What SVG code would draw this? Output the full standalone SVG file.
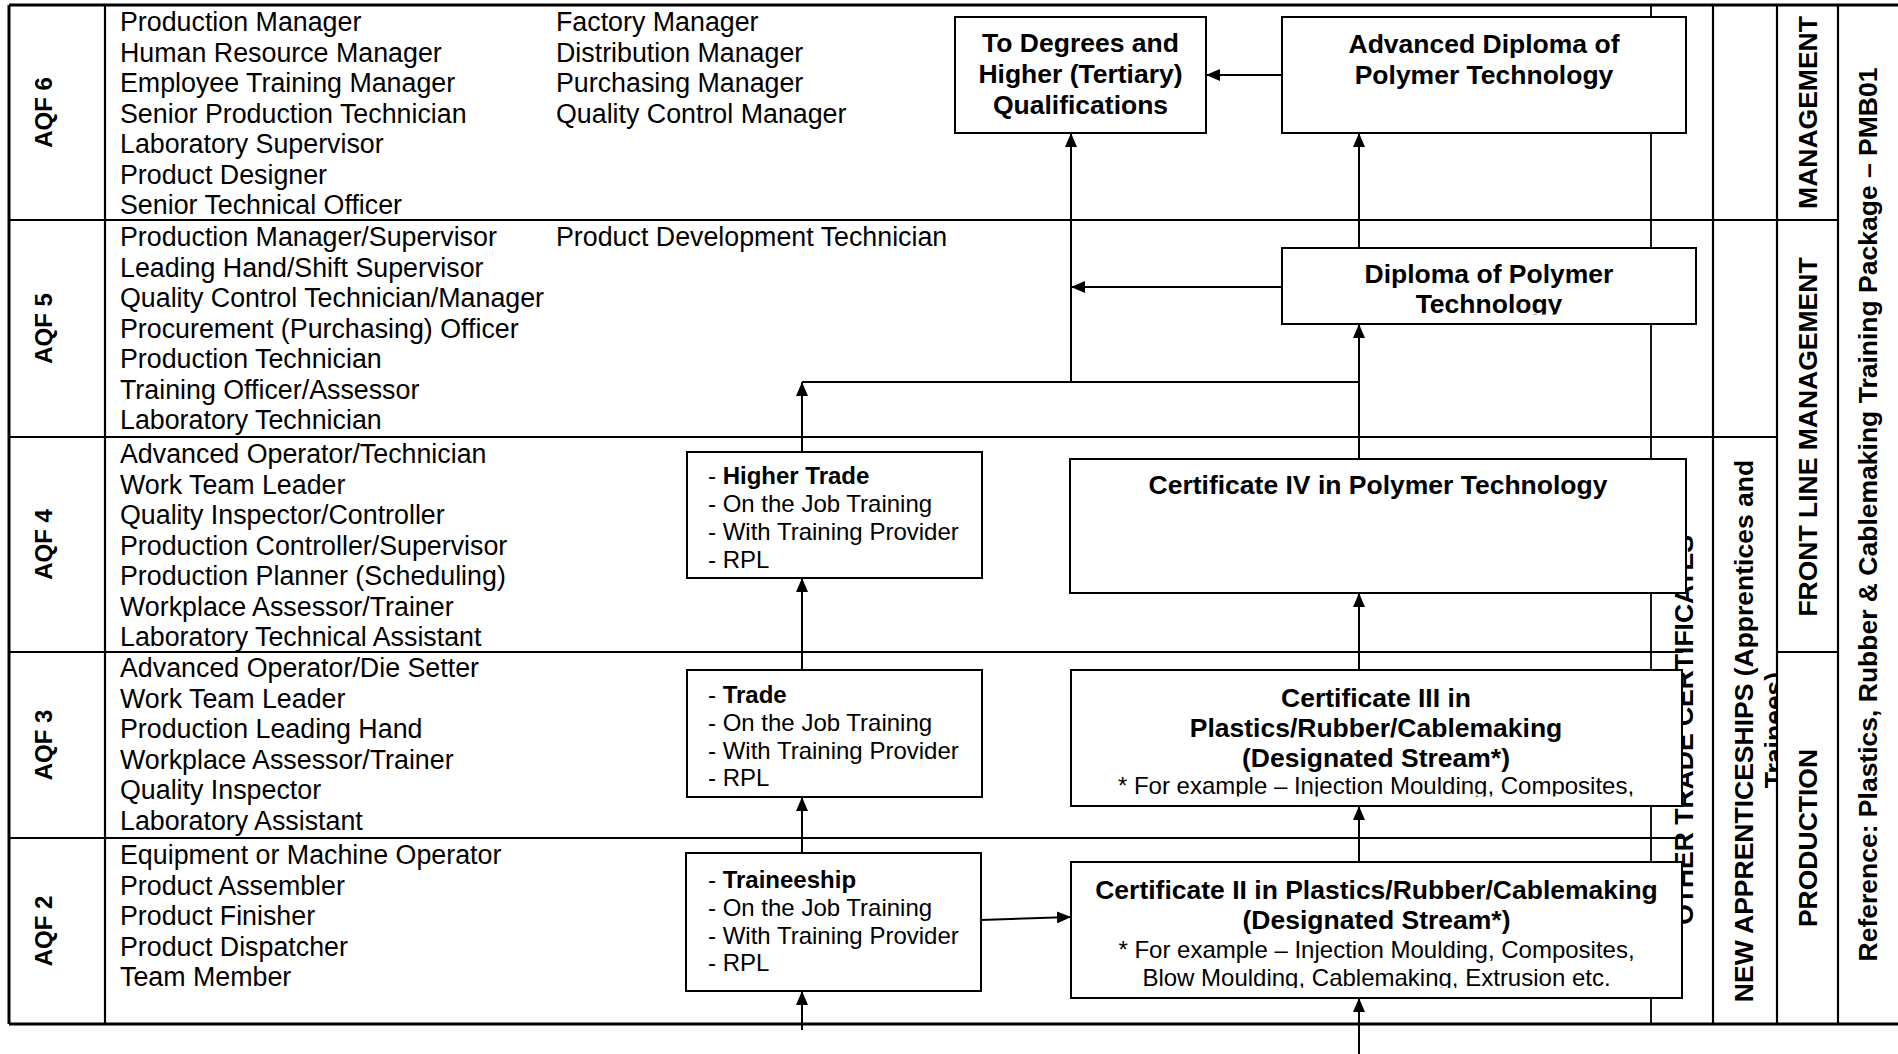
<svg xmlns="http://www.w3.org/2000/svg" width="1898" height="1054" viewBox="0 0 1898 1054">
<style>
text{font-family:"Liberation Sans",Arial,sans-serif;fill:#000}
.lst{font-size:26.8px}
.aqf{font-size:24px;font-weight:bold}
.hdr{font-size:26.5px;font-weight:bold}
.bt{font-size:26.5px;font-weight:bold;text-anchor:middle}
.bs{font-size:24px;text-anchor:middle}
.bl{font-size:24px}
.b{font-weight:bold}
.tl{stroke:#000;stroke-width:2.2;fill:none}
.box{fill:#fff;stroke:#000;stroke-width:2}
.cn{stroke:#000;stroke-width:2;fill:none}
</style>
<defs>
<marker id="ah" markerUnits="userSpaceOnUse" markerWidth="14" markerHeight="12" refX="14" refY="6" orient="auto">
<path d="M0,0 L14,6 L0,12 z" fill="#000"/>
</marker>
<clipPath id="cNew"><rect x="1714" y="437" width="62" height="587"/></clipPath>
<clipPath id="cDip"><rect x="1282" y="248" width="414" height="66.5"/></clipPath>
<clipPath id="cC3"><rect x="1071" y="670" width="611" height="126.5"/></clipPath>
<clipPath id="cC2"><rect x="1071" y="862" width="611" height="126"/></clipPath>
</defs>
<rect width="1898" height="1054" fill="#fff"/>

<g id="table">
<path class="tl" d="M9,5 H1898 M9,1024 H1898 M9,5 V1024" style="stroke-width:3"/>
<path class="tl" d="M105,5 V1024 M1713,5 V1024 M1777,5 V1024 M1838,5 V1024"/>
<path class="tl" d="M1651,5 V1024" style="stroke-width:1.8"/>
<path class="tl" d="M9,220 H1838 M9,437 H1777 M9,652 H1683 M1777,652 H1838 M9,838 H1683"/>
</g>

<g id="aqf-labels">
<text class="aqf" text-anchor="middle" transform="translate(51.6,112.5) rotate(-90)">AQF 6</text>
<text class="aqf" text-anchor="middle" transform="translate(51.6,328.5) rotate(-90)">AQF 5</text>
<text class="aqf" text-anchor="middle" transform="translate(51.6,544.5) rotate(-90)">AQF 4</text>
<text class="aqf" text-anchor="middle" transform="translate(51.6,745) rotate(-90)">AQF 3</text>
<text class="aqf" text-anchor="middle" transform="translate(51.6,931) rotate(-90)">AQF 2</text>
</g>

<g id="occupations">
<text class="lst"><tspan x="120" y="31">Production Manager</tspan><tspan x="120" dy="30.5">Human Resource Manager</tspan><tspan x="120" dy="30.5">Employee Training Manager</tspan><tspan x="120" dy="30.5">Senior Production Technician</tspan><tspan x="120" dy="30.5">Laboratory Supervisor</tspan><tspan x="120" dy="30.5">Product Designer</tspan><tspan x="120" dy="30.5">Senior Technical Officer</tspan></text>
<text class="lst"><tspan x="556" y="31">Factory Manager</tspan><tspan x="556" dy="30.5">Distribution Manager</tspan><tspan x="556" dy="30.5">Purchasing Manager</tspan><tspan x="556" dy="30.5">Quality Control Manager</tspan></text>
<text class="lst"><tspan x="120" y="246">Production Manager/Supervisor</tspan><tspan x="120" dy="30.5">Leading Hand/Shift Supervisor</tspan><tspan x="120" dy="30.5">Quality Control Technician/Manager</tspan><tspan x="120" dy="30.5">Procurement (Purchasing) Officer</tspan><tspan x="120" dy="30.5">Production Technician</tspan><tspan x="120" dy="30.5">Training Officer/Assessor</tspan><tspan x="120" dy="30.5">Laboratory Technician</tspan></text>
<text class="lst"><tspan x="556" y="246">Product Development Technician</tspan></text>
<text class="lst"><tspan x="120" y="463">Advanced Operator/Technician</tspan><tspan x="120" dy="30.5">Work Team Leader</tspan><tspan x="120" dy="30.5">Quality Inspector/Controller</tspan><tspan x="120" dy="30.5">Production Controller/Supervisor</tspan><tspan x="120" dy="30.5">Production Planner (Scheduling)</tspan><tspan x="120" dy="30.5">Workplace Assessor/Trainer</tspan><tspan x="120" dy="30.5">Laboratory Technical Assistant</tspan></text>
<text class="lst"><tspan x="120" y="677">Advanced Operator/Die Setter</tspan><tspan x="120" dy="30.5">Work Team Leader</tspan><tspan x="120" dy="30.5">Production Leading Hand</tspan><tspan x="120" dy="30.5">Workplace Assessor/Trainer</tspan><tspan x="120" dy="30.5">Quality Inspector</tspan><tspan x="120" dy="30.5">Laboratory Assistant</tspan></text>
<text class="lst"><tspan x="120" y="864">Equipment or Machine Operator</tspan><tspan x="120" dy="30.5">Product Assembler</tspan><tspan x="120" dy="30.5">Product Finisher</tspan><tspan x="120" dy="30.5">Product Dispatcher</tspan><tspan x="120" dy="30.5">Team Member</tspan></text>
</g>

<g id="column-headers">
<text class="hdr" text-anchor="middle" transform="translate(1817,112.5) rotate(-90)">MANAGEMENT</text>
<text class="hdr" text-anchor="middle" transform="translate(1817,437) rotate(-90)">FRONT LINE MANAGEMENT</text>
<text class="hdr" text-anchor="middle" transform="translate(1817,838) rotate(-90)">PRODUCTION</text>
<text class="hdr" text-anchor="middle" transform="translate(1877,514.5) rotate(-90)">Reference: Plastics, Rubber &amp; Cablemaking Training Package – PMB01</text>
<g clip-path="url(#cNew)">
<text class="hdr" text-anchor="middle" transform="translate(1753,731) rotate(-90)">NEW APPRENTICESHIPS (Apprentices and</text>
<text class="hdr" text-anchor="middle" transform="translate(1783,730) rotate(-90)">Trainees)</text>
</g>
<text class="hdr" text-anchor="middle" transform="translate(1693,730) rotate(-90)">OTHER TRADE CERTIFICATES</text>
</g>

<g id="connectors">
<path class="cn" d="M1282,75 H1206" marker-end="url(#ah)"/>
<path class="cn" d="M1071,382 V133" marker-end="url(#ah)"/>
<path class="cn" d="M1282,287 H1071" marker-end="url(#ah)"/>
<path class="cn" d="M1359,248 V133" marker-end="url(#ah)"/>
<path class="cn" d="M802,382 H1359"/>
<path class="cn" d="M1359,459 V324" marker-end="url(#ah)"/>
<path class="cn" d="M802,452 V382" marker-end="url(#ah)"/>
<path class="cn" d="M802,670 V578" marker-end="url(#ah)"/>
<path class="cn" d="M802,853 V797" marker-end="url(#ah)"/>
<path class="cn" d="M802,1030 V991" marker-end="url(#ah)"/>
<path class="cn" d="M981,920 L1071,917" marker-end="url(#ah)"/>
<path class="cn" d="M1359,670 V593" marker-end="url(#ah)"/>
<path class="cn" d="M1359,862 V806" marker-end="url(#ah)"/>
<path class="cn" d="M1359,1054 V998" marker-end="url(#ah)"/>
</g>

<g id="to-degrees">
<rect class="box" x="955" y="17" width="251" height="116"/>
<text class="bt" x="1080.5" y="52">To Degrees and</text>
<text class="bt" x="1080.5" y="83">Higher (Tertiary)</text>
<text class="bt" x="1080.5" y="114">Qualifications</text>
</g>

<g id="adv-diploma">
<rect class="box" x="1282" y="17" width="404" height="116"/>
<text class="bt" x="1484" y="53">Advanced Diploma of</text>
<text class="bt" x="1484" y="83.5">Polymer Technology</text>
</g>

<g id="diploma">
<rect class="box" x="1282" y="248" width="414" height="76"/>
<g clip-path="url(#cDip)">
<text class="bt" x="1489" y="283">Diploma of Polymer</text>
<text class="bt" x="1489" y="312.5">Technology</text>
</g>
</g>

<g id="cert-iv">
<rect class="box" x="1070" y="459" width="616" height="134"/>
<text class="bt" x="1378" y="494">Certificate IV in Polymer Technology</text>
</g>

<g id="cert-iii">
<rect class="box" x="1071" y="670" width="611" height="136"/>
<g clip-path="url(#cC3)">
<text class="bt" x="1376" y="707">Certificate III in</text>
<text class="bt" x="1376" y="737">Plastics/Rubber/Cablemaking</text>
<text class="bt" x="1376" y="767">(Designated Stream*)</text>
<text class="bs" x="1376" y="794">* For example – Injection Moulding, Composites,</text>
</g>
</g>

<g id="cert-ii">
<rect class="box" x="1071" y="862" width="611" height="136"/>
<g clip-path="url(#cC2)">
<text class="bt" x="1376.5" y="898.5">Certificate II in Plastics/Rubber/Cablemaking</text>
<text class="bt" x="1376.5" y="929">(Designated Stream*)</text>
<text class="bs" x="1376.5" y="957.5">* For example – Injection Moulding, Composites,</text>
<text class="bs" x="1376.5" y="985.5">Blow Moulding, Cablemaking, Extrusion etc.</text>
</g>
</g>

<g id="higher-trade">
<rect class="box" x="687" y="452" width="295" height="126"/>
<text class="bl"><tspan x="708" y="484">- <tspan class="b">Higher Trade</tspan></tspan><tspan x="708" y="512">- On the Job Training</tspan><tspan x="708" y="540">- With Training Provider</tspan><tspan x="708" y="567.5">- RPL</tspan></text>
</g>

<g id="trade">
<rect class="box" x="687" y="670" width="295" height="127"/>
<text class="bl"><tspan x="708" y="703">- <tspan class="b">Trade</tspan></tspan><tspan x="708" y="731">- On the Job Training</tspan><tspan x="708" y="759">- With Training Provider</tspan><tspan x="708" y="786">- RPL</tspan></text>
</g>

<g id="traineeship">
<rect class="box" x="686" y="853" width="295" height="138"/>
<text class="bl"><tspan x="708" y="887.5">- <tspan class="b">Traineeship</tspan></tspan><tspan x="708" y="915.5">- On the Job Training</tspan><tspan x="708" y="943.5">- With Training Provider</tspan><tspan x="708" y="970.5">- RPL</tspan></text>
</g>
</svg>
